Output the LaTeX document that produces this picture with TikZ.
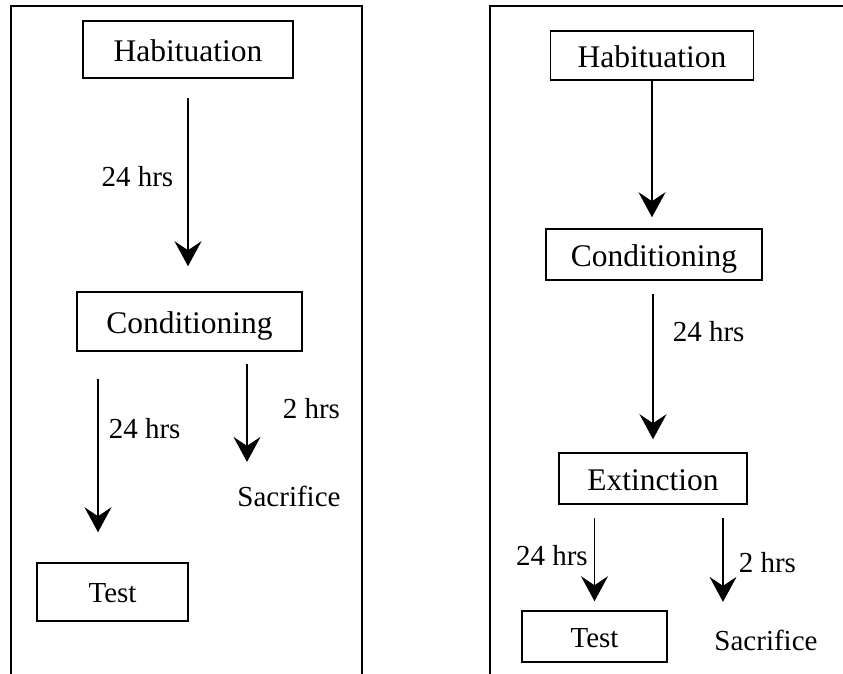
\documentclass[tikz,border=0pt]{standalone}
\usepackage{fontspec}
\setmainfont{Liberation Serif}
\usetikzlibrary{arrows.meta}

\newcommand{\boxfont}{\fontsize{31.5}{36}\selectfont}
\newcommand{\lblfont}{\fontsize{29}{34}\selectfont}

\tikzset{
  stage/.style={draw, line width=1.5pt, inner sep=0pt, font=\boxfont,
    text height=23.6pt, text depth=0pt},
  smallstage/.style={stage, font=\lblfont, text height=21.8pt},
  lbl/.style={inner sep=0pt, font=\lblfont, text height=21.8pt, text depth=0pt},
  arr/.style={line width=1.5pt, -{Stealth[length=25pt,width=27pt,inset=9pt]}},
  frame/.style={line width=1.7pt}
}

\begin{document}
\begin{tikzpicture}[x=1pt, y=-1pt]
    \useasboundingbox (0,0) rectangle (843,674);

    % left panel
    \draw[frame] (11,674) -- (11,6) -- (362,6) -- (362,674);
    \node[stage, minimum width=210pt, minimum height=57pt] (hab1) at (188,49.5) {Habituation};
    \node[stage, minimum width=225pt, minimum height=59pt] (cond1) at (189.5,321.5) {Conditioning};
    \node[smallstage, minimum width=151pt, minimum height=58pt] (test1) at (112.5,592) {Test};
    \node[lbl] (sac1) at (289,496) {Sacrifice};

    \draw[arr, shorten <=19pt, shorten >=25pt] (hab1.south) -- node[lbl, pos=0.458, left=14pt] {24 hrs} (hab1.south |- cond1.north);
    \draw[arr, shorten <=27pt, shorten >=30pt] ([xshift=-91.5pt]cond1.south) -- node[lbl, pos=0.358, right=10pt] {24 hrs} ([xshift=-14.5pt]test1.north);
    \draw[arr, shorten <=12pt, shorten >=23pt] ([xshift=57.5pt]cond1.south) -- node[lbl, pos=0.418, right=35pt] {2 hrs} ([xshift=-42pt]sac1.north);

    % right panel
    \draw[frame] (490,674) -- (490,6) -- (843,6);
    \node[stage, minimum width=203pt, minimum height=49pt] (hab2) at (652,55.5) {Habituation};
    \node[stage, minimum width=216pt, minimum height=51pt] (cond2) at (654,254.5) {Conditioning};
    \node[stage, minimum width=188pt, minimum height=51pt] (ext2) at (653,478.5) {Extinction};
    \node[smallstage, minimum width=145pt, minimum height=51pt] (test2) at (594.5,636.5) {Test};
    \node[lbl] (sac2) at (766,640) {Sacrifice};

    \draw[arr, shorten >=11pt] (hab2.south) -- (hab2.south |- cond2.north);
    \draw[arr, shorten <=13pt, shorten >=13pt] (ext2.north |- cond2.south) -- node[lbl, pos=0.289, right=19pt] {24 hrs} (ext2.north);
    \draw[arr, shorten <=13pt, shorten >=9pt] (ext2.south -| test2.north) -- node[lbl, pos=0.477, left=6pt] {24 hrs} (test2.north);
    \draw[arr, shorten <=13pt, shorten >=27pt] ([xshift=70pt]ext2.south) -- node[lbl, pos=0.456, right=15pt] {2 hrs} ([xshift=-43pt]sac2.north);
\end{tikzpicture}
\end{document}
